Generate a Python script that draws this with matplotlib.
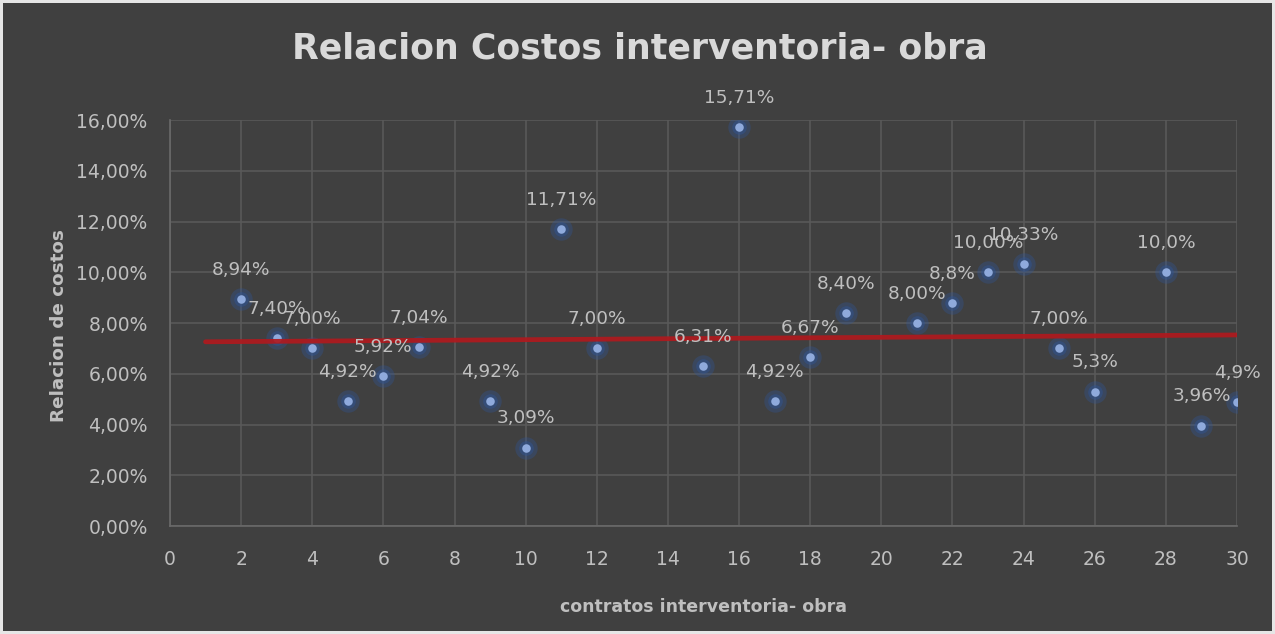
import numpy as np
import matplotlib
matplotlib.use('Agg')
import matplotlib.pyplot as plt
from matplotlib.ticker import FuncFormatter

# datos: contrato -> relacion de costos (%)
contratos = [2, 3, 4, 5, 6, 7, 9, 10, 11, 12, 15, 16, 17, 18, 19, 21, 22, 23, 24, 25, 26, 28, 29, 30]
relacion = [8.94, 7.40, 7.00, 4.92, 5.92, 7.04, 4.92, 3.09, 11.71, 7.00, 6.31, 15.71, 4.92, 6.67,
            8.40, 8.00, 8.80, 10.00, 10.33, 7.00, 5.30, 10.00, 3.96, 4.90]
etiquetas = ['8,94%', '7,40%', '7,00%', '4,92%', '5,92%', '7,04%', '4,92%', '3,09%', '11,71%', '7,00%',
             '6,31%', '15,71%', '4,92%', '6,67%', '8,40%', '8,00%', '8,8%', '10,00%', '10,33%', '7,00%',
             '5,3%', '10,0%', '3,96%', '4,9%']
# linea de tendencia
tendencia_x = [1, 30]
tendencia_y = [7.26, 7.53]
x_ticks = list(range(0, 31, 2))
y_ticks = list(range(0, 17, 2))

BG = '#404040'
GRID = '#595959'
TXT = '#BFBFBF'

fig = plt.figure(figsize=(12.75, 6.34), dpi=100)
fig.patch.set_facecolor(BG)
fig.patch.set_edgecolor('#E6E6E6')
fig.patch.set_linewidth(4)

ax = fig.add_axes([0.1333, 0.1703, 0.8369, 0.6404])
ax.set_facecolor(BG)

# puntos con "brillo"
ax.scatter(contratos, relacion, s=260, color='#2F5597', alpha=0.35, lw=0, zorder=3)
ax.scatter(contratos, relacion, s=110, color='#2F5597', alpha=0.45, lw=0, zorder=3)
ax.scatter(contratos, relacion, s=38, color='#8FAADC', lw=0, zorder=4)

ax.plot(tendencia_x, tendencia_y, color='#B0191E', lw=3.4, alpha=0.92, zorder=5,
        solid_capstyle='round')

for xv, yv, lab in zip(contratos, relacion, etiquetas):
    ax.annotate(lab, (xv, yv), xytext=(0, 21), textcoords='offset points',
                ha='center', va='center', fontsize=13.3, color=TXT, zorder=6)

ax.set_xlim(0, 30)
ax.set_ylim(0, 16)
ax.set_xticks(x_ticks)
ax.set_yticks(y_ticks)
ax.yaxis.set_major_formatter(FuncFormatter(lambda v, p: f'{v:.2f}%'.replace('.', ',')))
ax.grid(True, color=GRID, lw=1.2)
ax.set_axisbelow(True)
ax.tick_params(length=0, labelsize=13.5, colors=TXT)
ax.tick_params(axis='x', pad=17)
ax.tick_params(axis='y', pad=16)
for s in ['top', 'right']:
    ax.spines[s].set_visible(False)
for s in ['left', 'bottom']:
    ax.spines[s].set_color('#6A6A6A')
    ax.spines[s].set_linewidth(1.2)

fig.text(0.502, 0.924, 'Relacion Costos interventoria- obra', ha='center', va='center',
         fontsize=25, fontweight='bold', color='#D9D9D9')
fig.text(0.5518, 0.043, 'contratos interventoria- obra', ha='center', va='center',
         fontsize=12.5, fontweight='bold', color=TXT)
fig.text(0.046, 0.487, 'Relacion de costos', ha='center', va='center', rotation=90,
         fontsize=13.2, fontweight='bold', color=TXT)

plt.savefig('out.png', dpi=100, facecolor=fig.get_facecolor(), edgecolor=fig.get_edgecolor())
plt.close()
